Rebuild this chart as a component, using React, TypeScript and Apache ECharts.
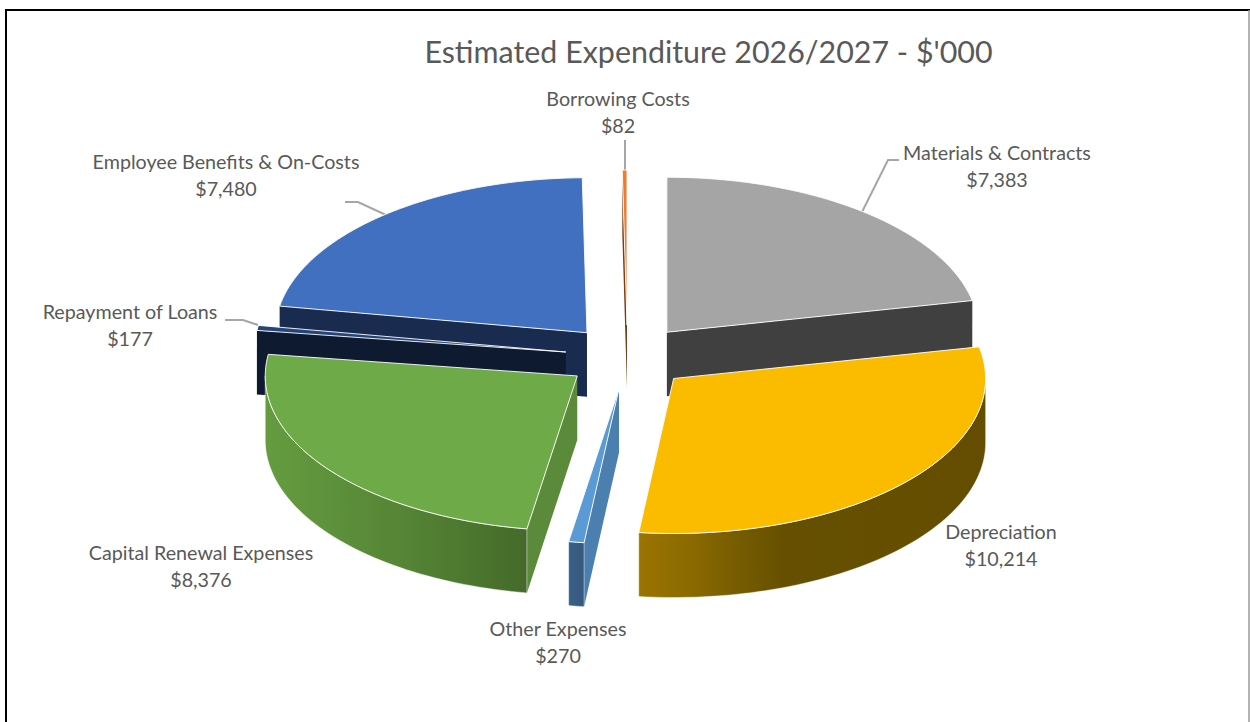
import React, { useEffect, useRef } from "react";
import * as echarts from "echarts";

// ---- data (clockwise from 12 o'clock, as in the picture)
const categories = [
  "Materials & Contracts",
  "Depreciation",
  "Other Expenses",
  "Capital Renewal Expenses",
  "Repayment of Loans",
  "Employee Benefits & On-Costs",
  "Borrowing Costs",
];
const values = [7383, 10214, 270, 8376, 177, 7480, 82];
const chartTitle = "Estimated Expenditure 2026/2027 - $'000";

// ---- styling, same order as the data
const topColors = ["#A5A5A5", "#FBBC00", "#5B9BD5", "#6EAA47", "#264478", "#4270C0", "#ED7D31"];
const edgeColors = ["#404040", "#654E00", "#4A7FB0", "#5A8A3A", "#0E1A30", "#1A2B50", "#7A3C10"];
const rimStops: [number, string][][] = [
  [[0, "#404040"], [1, "#404040"]],
  [[0, "#9A7400"], [0.14, "#8C6B00"], [0.28, "#775C00"], [0.42, "#665000"], [1, "#644D00"]],
  [[0, "#3A6088"], [1, "#38587C"]],
  [[0, "#659C40"], [0.5, "#568636"], [0.85, "#4A732D"], [1, "#45692A"]],
  [[0, "#0E1A30"], [1, "#0E1A30"]],
  [[0, "#1A2B50"], [1, "#1A2B50"]],
  [[0, "#7A3C10"], [1, "#7A3C10"]],
];
// painting order, back to front
const drawRank = [2, 6, 5, 4, 3, 1, 0];

// ---- pie geometry
const CX = 627.5;
const CY = 357;
const RX = 312;
const RY = 155;
const DEPTH = 64;
const EXPLODE = 0.2;

const labelCentres = [
  [997, 166],
  [1001, 545],
  [558, 642],
  [201, 566],
  [130, 325],
  [226, 175],
  [618, 112],
];
const leaderLines = [
  [[862, 212], [888, 160], [899, 160]],
  [[386, 215], [358, 202], [345, 202]],
  [[258, 325], [243, 320], [225, 320]],
  [[625, 170], [625, 140]],
];

const LABEL_FONT = "Lato";
const total = values.reduce((a, b) => a + b, 0);
const rad = (d: number) => (d * Math.PI) / 180;
const startAngle = (i: number) => (values.slice(0, i).reduce((a, b) => a + b, 0) / total) * 360;

function renderSlice(params: any, api: any) {
  const i = params.dataIndex;
  const a0 = startAngle(i);
  const a1 = a0 + (api.value(0) / total) * 360;
  const mid = rad((a0 + a1) / 2);
  const ax = CX + Math.sin(mid) * RX * EXPLODE;
  const ay = CY - Math.cos(mid) * RY * EXPLODE * 1.03;
  const pt = (deg: number, dz = 0) => [ax + Math.sin(rad(deg)) * RX, ay - Math.cos(rad(deg)) * RY + dz];
  const arc = (from: number, to: number, dz = 0) => {
    const n = Math.max(2, Math.ceil(Math.abs(to - from) / 1.5));
    const out: number[][] = [];
    for (let k = 0; k <= n; k++) out.push(pt(from + ((to - from) * k) / n, dz));
    return out;
  };
  const base = drawRank[i] * 10;
  const children: any[] = [];
  const radialWall = (deg: number, z: number) => {
    children.push({
      type: "polygon",
      z2: base + z,
      shape: { points: [[ax, ay], pt(deg), pt(deg, DEPTH), [ax, ay + DEPTH]] },
      style: { fill: edgeColors[i], stroke: null },
    });
  };
  // flat cut faces are seen only if they turn towards the viewer
  if (Math.sin(rad(a0)) < -0.001) radialWall(a0, 1);
  if (Math.sin(rad(a1)) > 0.001) radialWall(a1, 1);
  // curved rim: only the part between 90 and 270 degrees faces the viewer
  const r0 = Math.max(a0, 90);
  const r1 = Math.min(a1, 270);
  if (r1 > r0) {
    children.push({
      type: "polygon",
      z2: base + 2,
      shape: { points: [...arc(r0, r1), ...arc(r1, r0, DEPTH)] },
      style: {
        fill: new echarts.graphic.LinearGradient(
          0, 0, 1, 0,
          rimStops[i].map(([offset, color]) => ({ offset, color }))
        ),
        stroke: "rgba(255,255,255,0.55)",
        lineWidth: 0.8,
      },
    });
  }
  children.push({
    type: "polygon",
    z2: base + 3,
    shape: { points: [[ax, ay], ...arc(a0, a1)] },
    style: { fill: topColors[i], stroke: "#FFFFFF", lineWidth: 0.9 },
  });
  return { type: "group", children };
}

export default function App() {
  const ref = useRef<HTMLDivElement>(null);
  useEffect(() => {
    document.body.style.margin = "0";
    const chart = echarts.init(ref.current!, undefined, { renderer: "svg" });
    const graphic: any[] = [
      { type: "rect", shape: { x: 0, y: 0, width: 1250, height: 722 }, style: { fill: "#FFFFFF" }, z: -1 },
      { type: "line", shape: { x1: 6, y1: 10, x2: 6, y2: 722 }, style: { stroke: "#000000", lineWidth: 2 } },
      { type: "line", shape: { x1: 5, y1: 10, x2: 1250, y2: 10 }, style: { stroke: "#000000", lineWidth: 2 } },
      { type: "line", shape: { x1: 1249, y1: 10, x2: 1249, y2: 722 }, style: { stroke: "#9A9A9A", lineWidth: 1.5 } },
      ...leaderLines.map((points) => ({
        type: "polyline",
        shape: { points },
        style: { stroke: "#A6A6A6", lineWidth: 2, fill: null },
      })),
      ...categories.map((name, i) => ({
        type: "text",
        x: labelCentres[i][0],
        y: labelCentres[i][1],
        style: {
          text: `${name}\n$${values[i].toLocaleString("en-US")}`,
          align: "center",
          verticalAlign: "middle",
          fontFamily: LABEL_FONT,
          fontSize: 19.7,
          lineHeight: 26.5,
          fill: "#595959",
        },
      })),
    ];
    chart.setOption({
      animation: false,
      backgroundColor: "#FFFFFF",
      title: {
        text: chartTitle,
        left: 703.5,
        top: 31,
        textAlign: "center",
        textStyle: { fontFamily: LABEL_FONT, fontSize: 30.4, fontWeight: "normal", color: "#595959" },
      },
      graphic,
      series: [
        {
          type: "custom",
          coordinateSystem: "none",
          silent: true,
          renderItem: renderSlice,
          data: categories.map((name, i) => ({ name, value: [values[i]] })),
        },
      ],
    });
    return () => chart.dispose();
  }, []);
  return <div ref={ref} style={{ width: 1250, height: 722 }} />;
}
